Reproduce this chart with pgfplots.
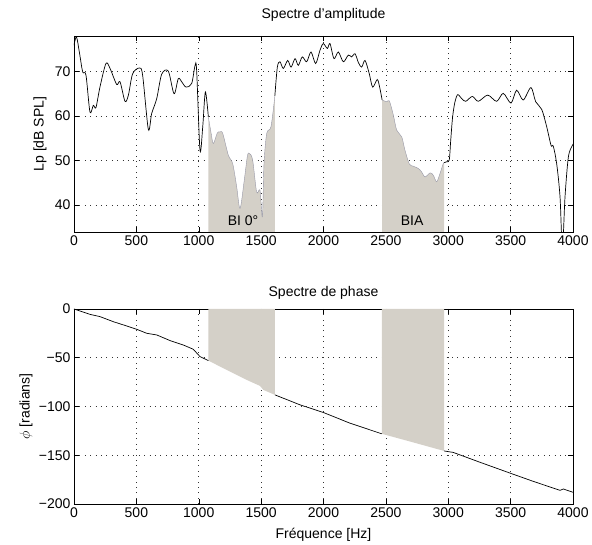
\documentclass[border=0pt]{standalone}
\usepackage{fontspec}
\setmainfont{Liberation Sans}
\usepackage{pgfplots}
\pgfplotsset{compat=1.18}
\definecolor{shade}{RGB}{212,208,200}
\definecolor{edge}{RGB}{150,150,165}
\newcommand{\fs}{\fontsize{14}{16}\selectfont}
\pgfplotsset{mystyle/.style={
  scale only axis, width=499pt,
  xmin=0, xmax=4000, xtick={0,500,...,4000},
  grid=major, grid style={black!80, line width=0.55pt, dash pattern=on 0.8pt off 4.6pt},
  tick align=inside, major tick length=5pt, tick style={black, line width=0.5pt},
  axis line style={line width=0.8pt},
  tick label style={font=\fs},
  label style={font=\fs}, title style={font=\fs},
  /pgf/number format/1000 sep={}, /pgf/number format/assume math mode=true,
}}
\begin{document}
\begin{tikzpicture}
\path (-74pt,-313pt) rectangle (518pt,232pt);
\begin{axis}[mystyle, at={(0pt,0pt)}, anchor=south west, height=196pt,
  ymin=33.9, ymax=78, ytick={40,50,60,70},
  title={Spectre d’amplitude}, title style={yshift=5pt},
  ylabel={Lp [dB SPL]}, ylabel style={at={(axis description cs:-0.068,0.5)}, anchor=center}]
% shaded regions
\addplot[fill=shade, draw=none, smooth, tension=0.5] coordinates {
(1077,59.8)(1100,56)(1117,53.8)(1149,56.2)(1170,56.4)(1192,56.1)(1237,51.2)(1272,49.3)(1304,44.1)(1331,39.2)(1365,45.6)(1390,51)(1405,51.6)(1432,50.1)(1464,42.9)(1491,43.3)(1510,37.3)(1523,49.3)(1545,56.1)(1579,57.6)(1610,64.5)} \closedcycle;
\addplot[edge, line width=0.4pt, smooth, tension=0.5] coordinates {
(1077,59.8)(1100,56)(1117,53.8)(1149,56.2)(1170,56.4)(1192,56.1)(1237,51.2)(1272,49.3)(1304,44.1)(1331,39.2)(1365,45.6)(1390,51)(1405,51.6)(1432,50.1)(1464,42.9)(1491,43.3)(1510,37.3)(1523,49.3)(1545,56.1)(1579,57.6)(1610,64.5)};
\addplot[fill=shade, draw=none, smooth, tension=0.5] coordinates {
(2470,63.6)(2507,63.2)(2528,63.4)(2560,60.2)(2587,56.8)(2627,55.3)(2653,52.3)(2688,49.2)(2720,48.7)(2760,48.2)(2787,47.4)(2814,46.3)(2854,47.2)(2880,46.7)(2907,45.2)(2934,47.1)(2960,49.3)(2967,49.5)} \closedcycle;
\addplot[edge, line width=0.4pt, smooth, tension=0.5] coordinates {
(2470,63.6)(2507,63.2)(2528,63.4)(2560,60.2)(2587,56.8)(2627,55.3)(2653,52.3)(2688,49.2)(2720,48.7)(2760,48.2)(2787,47.4)(2814,46.3)(2854,47.2)(2880,46.7)(2907,45.2)(2934,47.1)(2960,49.3)(2967,49.5)};
% black curve
\addplot[black, line width=0.7pt, smooth, tension=0.5] coordinates {
(0,75.9)(20,77.8)(45,74)(70,69.9)(96,69.2)(128,60.9)(155,62.4)(176,61.9)(208,66.5)(256,71.8)(289,70.7)(342,67.1)(369,67.7)(409,63.3)(436,64.7)(470,69.5)(524,70.8)(550,69.2)(596,57.0)(623,60.6)(663,63.9)(703,69.4)(756,70.1)(802,65.0)(836,68.4)(863,67.7)(898,66.5)(943,67.3)(970,71.3)(983,70.3)(1010,52.3)(1032,57.6)(1053,65.4)(1077,59.8)};
\addplot[black, line width=0.7pt, smooth, tension=0.5] coordinates {
(1610,64.5)(1630,71.0)(1651,72.2)(1678,70.7)(1713,72.5)(1740,71.0)(1772,72.9)(1798,71.4)(1830,73.3)(1865,72.2)(1900,74.4)(1937,71.8)(1972,74.8)(1998,76.3)(2031,75.2)(2052,76.3)(2084,72.9)(2119,74.4)(2159,72.2)(2199,73.7)(2226,73.3)(2253,74.0)(2280,72)(2306,71.0)(2333,72.5)(2367,69.5)(2394,66.5)(2431,68.2)(2450,66.5)(2470,63.6)};
\addplot[black, line width=0.7pt, smooth, tension=0.5] coordinates {
(2967,49.5)(2987,49.7)(3008,50.1)(3020,54.6)(3035,59.8)(3054,63.2)(3076,64.8)(3108,63.9)(3140,63.3)(3193,64.4)(3241,63.3)(3316,64.7)(3388,63.3)(3441,65.1)(3503,62.9)(3548,65.8)(3601,63.6)(3663,66.4)(3701,63.2)(3749,61.5)(3789,57.6)(3824,53.4)(3842,53.2)(3869,49.3)(3896,41.8)(3915,30)(3936,41.8)(3963,50.8)(3995,53.4)(4000,53.5)};
\node[font=\fs] at (axis cs:1355,36.4) {BI 0°};
\node[font=\fs] at (axis cs:2710,36.4) {BIA};
\end{axis}
\begin{axis}[mystyle, at={(0pt,-272pt)}, anchor=south west, height=195pt,
  ymin=-200, ymax=0, ytick={-200,-150,-100,-50,0},
  yticklabels={−200,−150,−100,−50,0},
  title={Spectre de phase}, title style={yshift=0pt},
  ylabel={$\phi$ [radians]}, ylabel style={at={(axis description cs:-0.096,0.5)}, anchor=center},
  xlabel={Fréquence [Hz]}, xlabel style={at={(axis description cs:0.5,-0.159)}, anchor=center}]
\addplot[fill=shade, draw=none] coordinates {
(1077,-52.9)(1170,-59)(1277,-65.8)(1384,-72.7)(1491,-78.9)(1518,-83)(1611,-88.1)} \closedcycle;
\addplot[fill=shade, draw=none] coordinates {
(2467,-128)(2693,-135.9)(2967,-145.6)} \closedcycle;
\addplot[black, line width=0.7pt] coordinates {
(0,0)(128,-5.5)(208,-7.8)(315,-13)(422,-17.4)(502,-20.8)(583,-24.9)(663,-26.6)(770,-32.4)(876,-36.9)(956,-41.3)(1010,-48.8)(1077,-52.9)};
\addplot[black, line width=0.7pt] coordinates {
(1611,-88.1)(1812,-98.3)(2000,-106.2)(2212,-117.1)(2467,-128)};
\addplot[black, line width=0.7pt] coordinates {
(2967,-145.6)(3040,-147.1)(3250,-157)(3495,-168.3)(3682,-176.8)(3896,-186)(3923,-184.6)(4000,-188)};
\end{axis}
\end{tikzpicture}
\end{document}
